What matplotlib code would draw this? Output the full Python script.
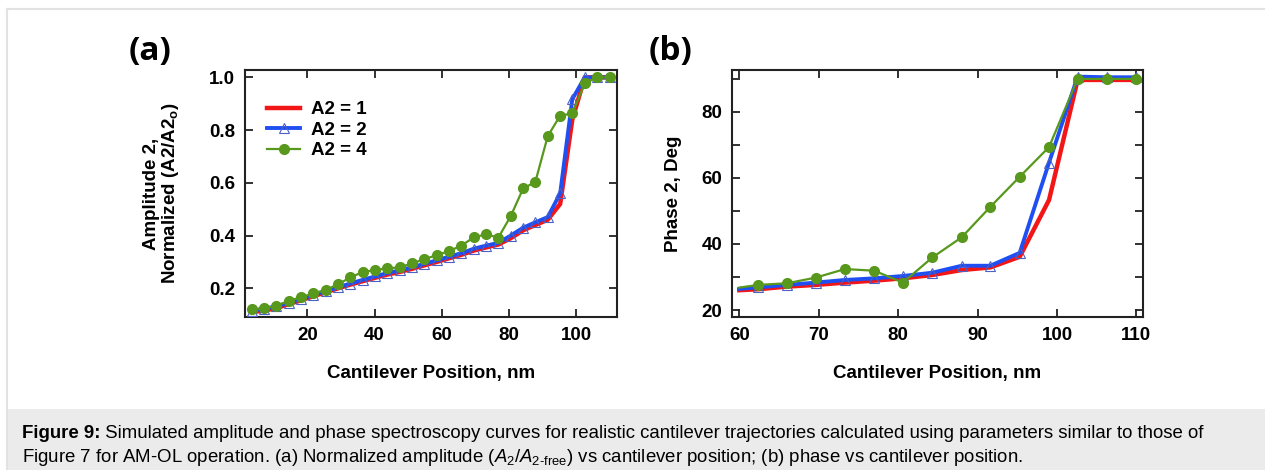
import matplotlib
matplotlib.use("Agg")
import matplotlib.pyplot as plt
from matplotlib.lines import Line2D
from matplotlib.patches import Rectangle
from matplotlib.ticker import MultipleLocator

plt.rcParams['font.family'] = ['Liberation Sans', 'DejaVu Sans']
plt.rcParams['mathtext.fontset'] = 'custom'
plt.rcParams['mathtext.rm'] = 'Liberation Sans'
plt.rcParams['mathtext.it'] = 'Liberation Sans:italic'
plt.rcParams['mathtext.bf'] = 'Liberation Sans:bold'

# cantilever positions (nm)
pos = [3.5, 7.2, 10.8, 14.5, 18.2, 21.8, 25.5, 29.2, 32.8, 36.5,
       40.2, 43.8, 47.5, 51.2, 54.8, 58.5, 62.2, 65.8, 69.5, 73.2,
       76.8, 80.5, 84.2, 87.8, 91.5, 95.2, 98.8, 102.5, 106.2, 110.0]

# normalized amplitude A2/A2o
amp_1 = [0.110, 0.115, 0.125, 0.140, 0.155, 0.170, 0.185, 0.200, 0.214, 0.227,
         0.240, 0.252, 0.262, 0.274, 0.287, 0.300, 0.314, 0.327, 0.343, 0.355,
         0.366, 0.390, 0.420, 0.440, 0.460, 0.520, 0.840, 1.000, 1.000, 1.000]
amp_2 = [0.115, 0.122, 0.132, 0.145, 0.160, 0.175, 0.190, 0.204, 0.218, 0.232,
         0.245, 0.258, 0.268, 0.280, 0.293, 0.306, 0.320, 0.333, 0.350, 0.362,
         0.372, 0.400, 0.430, 0.450, 0.470, 0.560, 0.917, 1.000, 1.000, 1.000]
amp_4 = [0.120, 0.124, 0.133, 0.153, 0.166, 0.181, 0.193, 0.216, 0.241, 0.262,
         0.269, 0.276, 0.279, 0.295, 0.310, 0.326, 0.341, 0.362, 0.393, 0.405,
         0.392, 0.474, 0.579, 0.603, 0.777, 0.855, 0.863, 0.977, 1.000, 1.000]

# phase (deg) over the approach region
pos_ph = [60.0, 62.4, 66.0, 69.6, 73.3, 77.0, 80.6, 84.3, 88.0, 91.6,
          95.3, 99.0, 102.6, 106.3, 110.0]
ph_1 = [26.0, 26.3, 27.1, 27.6, 28.3, 28.9, 29.6, 30.6, 32.1, 32.9,
        36.1, 53.3, 89.6, 89.6, 89.6]
ph_2 = [26.4, 26.9, 27.6, 28.3, 29.1, 29.6, 30.3, 31.3, 33.4, 33.4,
        37.3, 64.6, 90.6, 90.4, 90.4]
ph_4 = [26.8, 27.6, 28.1, 29.8, 32.4, 31.9, 28.3, 35.9, 42.0, 51.2,
        60.3, 69.3, 89.9, 89.9, 89.9]

labels = ['A2 = 1', 'A2 = 2', 'A2 = 4']
red = '#f21616'
blue = '#1f4ff2'
tri_edge = '#4a62c6'
green = '#58981c'

W, H = 1265, 470
fig = plt.figure(figsize=(W / 100, H / 100), dpi=100)

# page frame and caption panel
fig.add_artist(Line2D([7 / W, 7 / W], [0, 1 - 9 / H], color='#e2e2e2', lw=1.5))
fig.add_artist(Line2D([7 / W, 1], [1 - 9 / H, 1 - 9 / H], color='#e2e2e2', lw=1.5))
fig.add_artist(Rectangle((7 / W, 0), 1, 61 / H, transform=fig.transFigure,
                         facecolor='#ebebeb', edgecolor='none'))

ax1 = fig.add_axes([245 / W, 1 - 317 / H, 372 / W, 247 / H])
ax2 = fig.add_axes([732 / W, 1 - 317 / H, 411 / W, 247 / H])


def draw(ax, x, y1, y2, y4, every=None):
    ax.plot(x, y1, color=red, lw=3.2, label=labels[0], zorder=3)
    ax.plot(x, y2, color=blue, lw=2.8, marker='^', ms=7.5, mfc='none',
            mec=tri_edge, mew=0.8, markevery=every, label=labels[1], zorder=4)
    ax.plot(x, y4, color=green, lw=1.6, marker='o', ms=7, mec=green,
            markevery=every, label=labels[2], zorder=5)


def style(ax):
    for s in ax.spines.values():
        s.set_linewidth(1.5)
        s.set_color('#222222')
    ax.tick_params(which='both', direction='in', top=True, right=True,
                   length=6, width=1.3, color='#222222', labelsize=13.5, pad=7)
    for t in ax.get_xticklabels() + ax.get_yticklabels():
        t.set_fontweight('bold')
    ax.set_xlabel('Cantilever Position, nm', fontsize=13.5, fontweight='bold', labelpad=15)


draw(ax1, pos, amp_1, amp_2, amp_4)
ax1.set_xlim(1.45, 112.1)
ax1.set_ylim(0.091, 1.028)
ax1.set_xticks([20, 40, 60, 80, 100])
ax1.set_yticks([0.2, 0.4, 0.6, 0.8, 1.0])
ax1.set_yticklabels(['0.2', '0.4', '0.6', '0.8', '1.0'])
style(ax1)
ax1.set_ylabel('Amplitude 2,\nNormalized (A2/A2$_\\mathbf{o}$)', fontsize=13.5,
               fontweight='bold', labelpad=20, linespacing=1.05)
leg = ax1.legend(loc='upper left', bbox_to_anchor=(0.04, 0.905), frameon=False,
                 prop={'size': 13.5, 'weight': 'bold'}, handlelength=1.75,
                 handletextpad=0.6, labelspacing=0.18, borderaxespad=0)

draw(ax2, pos_ph, ph_1, ph_2, ph_4, every=slice(1, None))
ax2.set_xlim(59.08, 110.83)
ax2.set_ylim(17.9, 92.6)
ax2.set_xticks([60, 70, 80, 90, 100, 110])
ax2.yaxis.set_major_locator(MultipleLocator(20))
ax2.yaxis.set_minor_locator(MultipleLocator(10))
style(ax2)
ax2.set_ylabel('Phase 2, Deg', fontsize=13.5, fontweight='bold', labelpad=14)

# panel tags
fig.text(150 / W, 1 - 52 / H, '(a)', family='Open Sans', fontweight='bold',
         fontsize=24, ha='center', va='center')
fig.text(671 / W, 1 - 52 / H, '(b)', family='Open Sans', fontweight='bold',
         fontsize=24, ha='center', va='center')

# caption: bold lead-in, then the body text right after it
cap_size = 13.4
lead = fig.text(22 / W, 1 - 437.5 / H, 'Figure 9:', fontsize=cap_size,
                fontweight='bold', ha='left', va='baseline')
fig.canvas.draw()
x_end = lead.get_window_extent().x1
fig.text(x_end / W, 1 - 437.5 / H,
         ' Simulated amplitude and phase spectroscopy curves for realistic cantilever '
         'trajectories calculated using parameters similar to those of',
         fontsize=cap_size, ha='left', va='baseline')
fig.text(22 / W, 1 - 461.5 / H,
         r'Figure 7 for AM-OL operation. (a) Normalized amplitude ($\mathit{A}_\mathrm{2}$/'
         r'$\mathit{A}_{\text{2-free}}$) vs cantilever position; (b) phase vs cantilever position.',
         fontsize=cap_size, ha='left', va='baseline')

fig.savefig('out.png', dpi=100)
